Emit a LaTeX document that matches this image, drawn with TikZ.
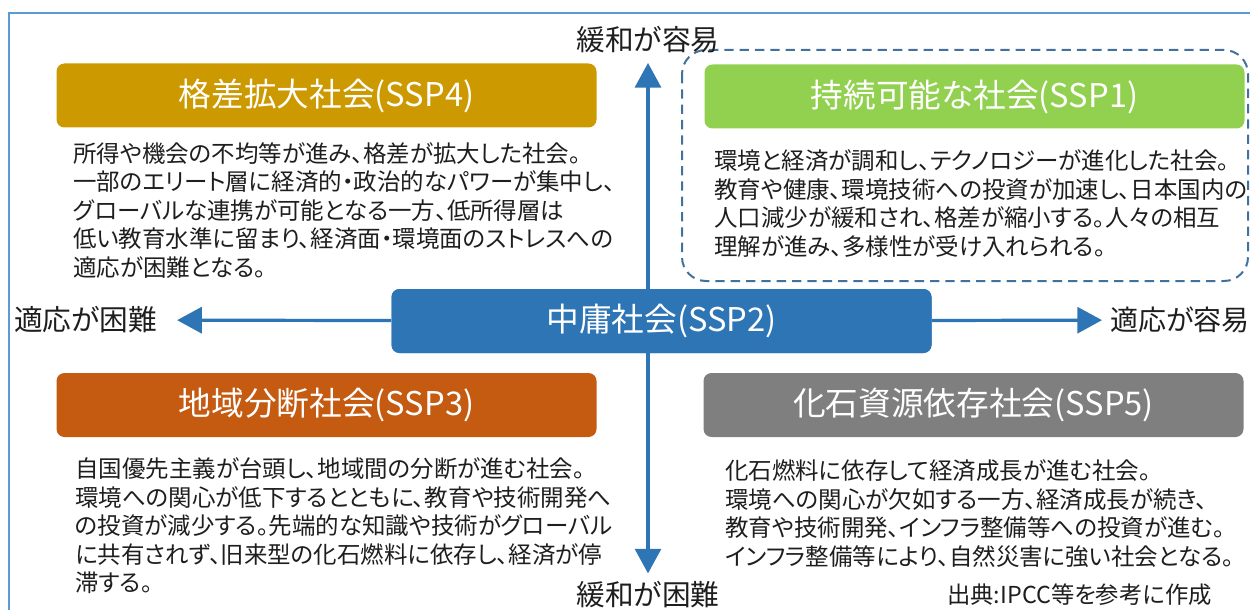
\documentclass[tikz,border=0pt]{standalone}
\usepackage{fontspec}
\setmainfont{Noto Sans CJK JP}[RawFeature={+palt}]
\usetikzlibrary{arrows.meta}

\begin{document}
\begin{tikzpicture}[x=0.75pt,y=0.75pt,yscale=-1,xscale=1,
    titlebox/.style={rounded corners=6pt, minimum width=405pt, minimum height=48pt, inner sep=0pt, text=white, font=\fontsize{24.5}{28}\selectfont},
    bodytext/.style={anchor=north west, inner sep=0pt, align=left, text={rgb, 255:red, 30; green, 30; blue, 30 }, font=\fontsize{17.6}{21.4}\selectfont},
    axislabel/.style={inner sep=0pt, text={rgb, 255:red, 30; green, 30; blue, 30 }, font=\fontsize{21.5}{25}\selectfont},
    axisarrow/.style={draw={rgb, 255:red, 46; green, 117; blue, 182 }, line width=2.4pt, -{Triangle[length=18.5pt,width=19.5pt]}}]
    \useasboundingbox (0,0) rectangle (1250,610);
    
    %Shape: Frame [id:frame] 
    \draw [color={rgb, 255:red, 91; green, 155; blue, 213 }, line width=1.5pt] (9,620) -- (9,13) -- (1260,13) ;
    %Shape: Rounded Rect (dashed) [id:ssp1frame] 
    \draw [color={rgb, 255:red, 65; green, 113; blue, 156 }, line width=1.5pt, dash pattern=on 7pt off 4.5pt, rounded corners=18pt] (682,50) rectangle (1248,281) ;
    
    % Axis labels
    \draw (648,40) node (mitEasy) [axislabel] {緩和が容易};
    \draw (648,595) node (mitHard) [axislabel] {緩和が困難};
    \draw (85.5,320) node (adaptHard) [axislabel] {適応が困難};
    \draw (1110,320) node (adaptEasy) [axislabel, anchor=west, font=\fontsize{21}{25}\selectfont] {適応が容易};
    
    % Center box
    \draw (661.5,321) node (ssp2) [titlebox, fill={rgb, 255:red, 46; green, 117; blue, 182 }] {中庸社会(SSP2)};
    
    %Arrows
    \draw [axisarrow, shorten >=7pt] (ssp2.north -| mitEasy) -- (mitEasy) ;
    \draw [axisarrow, shorten >=6pt] (ssp2.south -| mitHard) -- (mitHard) ;
    \draw [axisarrow, shorten >=15pt] (ssp2) -- (adaptHard) ;
    \draw [axisarrow, shorten >=6pt] (ssp2) -- (adaptEasy) ;
    \draw (661.5,321) node [titlebox, fill={rgb, 255:red, 46; green, 117; blue, 182 }] {中庸社会(SSP2)};
    
    % Title boxes
    \draw (326.5,95.5) node (ssp4) [titlebox, fill={rgb, 255:red, 204; green, 153; blue, 0 }] {格差拡大社会(SSP4)};
    \draw (974.5,96.5) node (ssp1) [titlebox, fill={rgb, 255:red, 146; green, 208; blue, 80 }] {持続可能な社会(SSP1)};
    \draw (326.5,405) node (ssp3) [titlebox, fill={rgb, 255:red, 197; green, 90; blue, 17 }] {地域分断社会(SSP3)};
    \draw (973.5,405) node (ssp5) [titlebox, fill={rgb, 255:red, 127; green, 127; blue, 127 }] {化石資源依存社会(SSP5)};
    
    % Text Node
    \draw (73,142) node (ssp4text) [bodytext] {所得や機会の不均等が進み、格差が拡大した社会。\\一部のエリート層に経済的・政治的なパワーが集中し、\\グローバルな連携が可能となる一方、低所得層は\\低い教育水準に留まり、経済面・環境面のストレスへの\\適応が困難となる。};
    % Text Node
    \draw (714,149.5) node (ssp1text) [bodytext] {環境と経済が調和し、テクノロジーが進化した社会。\\教育や健康、環境技術への投資が加速し、日本国内の\\人口減少が緩和され、格差が縮小する。人々の相互\\理解が進み、多様性が受け入れられる。};
    % Text Node
    \draw (75,457.5) node (ssp3text) [bodytext] {自国優先主義が台頭し、地域間の分断が進む社会。\\環境への関心が低下するとともに、教育や技術開発へ\\の投資が減少する。先端的な知識や技術がグローバル\\に共有されず、旧来型の化石燃料に依存し、経済が停\\滞する。};
    % Text Node
    \draw (725,459.5) node (ssp5text) [bodytext] {化石燃料に依存して経済成長が進む社会。\\環境への関心が欠如する一方、経済成長が続き、\\教育や技術開発、インフラ整備等への投資が進む。\\インフラ整備等により、自然災害に強い社会となる。};
    % Text Node
    \draw (947,595) node (source) [axislabel, anchor=west, font=\fontsize{17.5}{20}\selectfont] {出典:IPCC等を参考に作成};
    
\end{tikzpicture}
\end{document}
